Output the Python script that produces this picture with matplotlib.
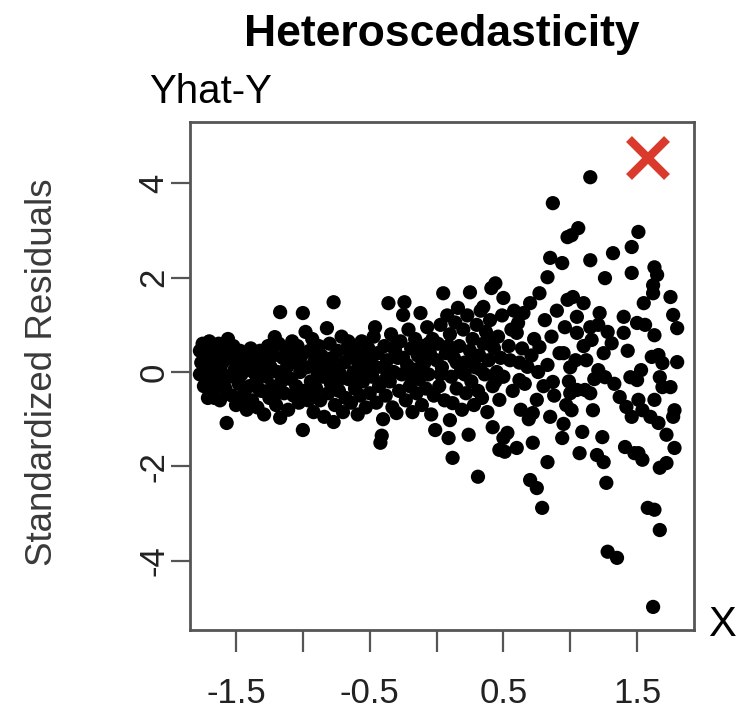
import numpy as np
import matplotlib.pyplot as plt

plt.rcParams['font.family'] = ['Liberation Sans', 'DejaVu Sans']

# residual points, grouped by x band (x, standardized residual)
band_a = [(-1.77, 0.45), (-1.76, 0.2), (-1.77, -0.05), (-1.75, 0.6), (-1.74, -0.3),
          (-1.73, 0.35), (-1.72, 0.05), (-1.71, -0.55), (-1.70, 0.65), (-1.70, 0.25),
          (-1.69, -0.15), (-1.68, 0.5), (-1.67, -0.4), (-1.66, 0.1), (-1.65, 0.35),
          (-1.64, -0.25), (-1.63, 0.6), (-1.62, -0.6), (-1.61, 0.0), (-1.60, 0.2),
          (-1.59, 0.45), (-1.58, -0.35), (-1.57, -1.08), (-1.56, 0.7), (-1.55, -0.1),
          (-1.54, 0.3), (-1.53, -0.5), (-1.52, 0.55), (-1.51, 0.05), (-1.50, -0.7),
          (-1.49, 0.25), (-1.48, -0.25), (-1.47, 0.45), (-1.46, -0.05), (-1.45, 0.15),
          (-1.44, -0.45), (-1.43, 0.35), (-1.42, -0.8), (-1.41, 0.1), (-1.40, -0.3)]

band_b = [(-1.39, 0.5), (-1.38, -0.6), (-1.37, 0.0), (-1.36, 0.3), (-1.35, -0.2),
          (-1.34, -0.75), (-1.33, 0.15), (-1.32, 0.45), (-1.31, -0.4), (-1.30, 0.05),
          (-1.29, -0.9), (-1.28, 0.25), (-1.27, -0.1), (-1.26, 0.55), (-1.25, -0.55),
          (-1.24, 0.1), (-1.23, -0.3), (-1.22, 0.35), (-1.21, 0.74), (-1.20, -0.7),
          (-1.19, 0.0), (-1.18, 0.6), (-1.17, 1.27), (-1.17, -0.97), (-1.16, -0.2),
          (-1.15, 0.3), (-1.14, -0.45), (-1.13, 0.5), (-1.12, 0.1), (-1.11, -0.8),
          (-1.10, 0.4), (-1.09, -0.15), (-1.08, 0.65), (-1.07, -0.5), (-1.06, 0.2),
          (-1.05, -0.3), (-1.04, 0.55), (-1.03, -0.65), (-1.02, 0.0), (-1.01, 0.35),
          (-1.00, 1.25), (-1.00, -1.23), (-0.99, -0.4), (-0.98, 0.85)]

band_c = [(-0.97, 0.1), (-0.96, -0.6), (-0.95, 0.45), (-0.94, -0.2), (-0.93, 0.7),
          (-0.92, -0.85), (-0.91, 0.25), (-0.90, -0.35), (-0.89, 0.0), (-0.88, 0.55),
          (-0.87, -0.6), (-0.86, 0.35), (-0.85, -0.1), (-0.84, -0.95), (-0.83, 0.15),
          (-0.82, 0.93), (-0.81, -0.45), (-0.80, 0.6), (-0.79, -0.25), (-0.78, 0.3),
          (-0.77, 1.48), (-0.77, -1.06), (-0.76, -0.7), (-0.75, 0.05), (-0.74, 0.45),
          (-0.73, -0.4), (-0.72, -0.05), (-0.71, 0.75), (-0.70, -0.85), (-0.69, 0.2),
          (-0.68, -0.55), (-0.67, 0.5), (-0.66, -0.15), (-0.65, 0.3), (-0.64, -0.65),
          (-0.63, 0.57), (-0.62, 0.0), (-0.61, -0.35), (-0.60, 0.4), (-0.59, -0.9),
          (-0.58, 0.15), (-0.57, -0.5), (-0.56, 0.65), (-0.55, -0.2), (-0.54, 0.35),
          (-0.53, -0.75), (-0.52, 0.05), (-0.51, 0.5)]

band_d = [(-0.50, -0.45), (-0.49, 0.2), (-0.48, -0.1), (-0.47, 0.75), (-0.46, 0.95),
          (-0.45, -0.65), (-0.44, 0.4), (-0.43, -0.3), (-0.42, -1.5), (-0.41, -1.35),
          (-0.40, 0.1), (-0.40, -1.0), (-0.39, 0.55), (-0.38, -0.5), (-0.37, 0.25),
          (-0.36, 1.46), (-0.35, -0.2), (-0.34, 0.8), (-0.33, -0.75), (-0.32, 0.0),
          (-0.31, 0.45), (-0.30, -0.87), (-0.29, 0.3), (-0.28, -0.4), (-0.27, 0.65),
          (-0.26, -0.05), (-0.25, 1.21), (-0.24, 1.48), (-0.23, -0.6), (-0.22, 0.15),
          (-0.21, 0.9), (-0.20, -0.3), (-0.19, 0.5), (-0.18, -0.85), (-0.17, 0.05),
          (-0.16, 0.7), (-0.15, -0.45), (-0.14, 0.35), (-0.13, -0.15), (-0.12, 1.25),
          (-0.11, -0.7), (-0.10, 0.55), (-0.09, 0.2), (-0.08, -0.35), (-0.07, 0.95),
          (-0.06, -0.05), (-0.05, 0.4), (-0.04, -0.9), (-0.03, 0.7), (-0.02, -0.5),
          (-0.01, -1.23), (0.0, 0.25)]

band_e = [(0.01, 0.6), (0.02, -0.3), (0.03, 1.0), (0.04, 0.1), (0.05, 1.67),
          (0.06, -0.6), (0.07, 0.4), (0.08, 1.2), (0.09, -1.40), (0.10, -1.02),
          (0.10, 0.8), (0.11, -0.1), (0.12, -0.66), (0.12, -1.82), (0.13, 0.3),
          (0.14, 1.05), (0.15, -0.35), (0.16, 1.36), (0.17, 0.55), (0.18, 0.0),
          (0.19, -0.8), (0.20, 0.9), (0.21, 0.2), (0.22, -0.45), (0.23, 1.2),
          (0.24, -1.33), (0.25, 1.69), (0.25, 0.45), (0.26, -0.2), (0.27, 0.7),
          (0.28, -0.7), (0.29, 0.1), (0.30, 1.0), (0.31, -2.22), (0.31, -0.4),
          (0.32, 0.35), (0.33, 1.3), (0.34, -0.55), (0.35, 1.38), (0.35, 0.6),
          (0.36, -0.05), (0.37, 0.85), (0.38, -0.85), (0.39, 0.25), (0.40, 1.1),
          (0.41, 1.78), (0.42, -1.17), (0.42, -0.3), (0.43, 0.5), (0.44, 1.88),
          (0.45, 0.0), (0.46, 0.75), (0.47, -0.59), (0.47, -1.65), (0.48, 0.3),
          (0.49, 1.2), (0.50, 1.57), (0.50, -1.40), (0.50, -0.1)]

band_f = [(0.51, -1.69), (0.53, -1.29), (0.55, 0.25), (0.56, 0.9), (0.57, -0.4),
          (0.58, 1.3), (0.60, 0.83), (0.60, -1.61), (0.61, 1.04), (0.62, -0.17),
          (0.63, -0.8), (0.64, 0.5), (0.65, 1.25), (0.66, -0.25), (0.68, 0.11),
          (0.69, -1.0), (0.70, 1.46), (0.70, -2.29), (0.71, 0.35), (0.72, -0.87),
          (0.72, -1.50), (0.73, 0.7), (0.75, -0.59), (0.75, -2.46), (0.76, 0.0),
          (0.77, 1.67), (0.77, 0.53), (0.79, -2.88), (0.80, -0.3), (0.81, 1.1),
          (0.83, 2.01), (0.83, 0.15), (0.83, -1.91), (0.85, 2.42), (0.85, -0.95),
          (0.86, 0.75), (0.87, 3.58), (0.87, -0.21), (0.88, -0.5), (0.90, 1.3),
          (0.92, 0.4), (0.94, 2.31), (0.94, -1.40), (0.95, 0.40), (0.95, -1.1),
          (0.96, 0.95), (0.97, -0.7), (0.98, 2.86), (0.98, 1.53), (0.99, -0.2)]

band_g = [(1.01, 2.9), (1.06, 3.05), (1.15, 4.13), (1.51, 2.97), (1.46, 2.65),
          (1.32, 2.52), (1.15, 2.37), (1.26, 1.99), (1.46, 2.10), (1.63, 2.22),
          (1.65, 2.06), (1.62, 1.84), (1.62, 1.67), (1.75, 1.59), (1.55, 1.46),
          (1.77, 1.21), (1.80, 0.93), (1.02, 1.59), (1.10, 1.46), (1.05, 1.17),
          (1.22, 1.25), (1.40, 1.17), (1.50, 1.04), (1.56, 1.00), (1.63, 0.78),
          (1.15, 0.95), (1.21, 1.00), (1.05, 0.83), (1.16, 0.68), (1.40, 0.83),
          (1.31, 0.61), (1.25, 0.40), (1.04, 0.25), (1.12, 0.25), (1.00, 0.1),
          (1.21, 0.04), (1.26, -0.11), (1.61, 0.32), (1.66, 0.36), (1.69, 0.19),
          (1.80, 0.21), (1.53, 0.04), (1.45, -0.11), (1.50, -0.17), (1.67, -0.11),
          (1.69, -0.32), (1.75, -0.32), (1.05, -0.38), (1.11, -0.38), (1.15, -0.45),
          (1.00, -0.45), (1.37, -0.53), (1.63, -0.59), (1.42, -0.74), (1.51, -0.59),
          (1.54, -0.81), (1.78, -0.81), (1.77, -0.95), (1.46, -0.95), (1.60, -0.95),
          (1.66, -1.08), (1.01, -0.81), (1.17, -0.81), (1.72, -1.33), (1.09, -1.27),
          (1.24, -1.38), (1.41, -1.59), (1.48, -1.72), (1.78, -1.61), (1.07, -1.72),
          (1.20, -1.76), (1.51, -1.72), (1.54, -1.86), (1.67, -2.03), (1.72, -1.93),
          (1.25, -1.91), (1.27, -2.35), (1.58, -2.88), (1.63, -2.92), (1.67, -3.35),
          (1.28, -3.81), (1.35, -3.94), (1.62, -4.98), (1.33, -0.25), (1.28, 0.85),
          (1.43, 0.45), (1.10, 0.55), (1.18, -0.15)]

# extra points in the crowded core where dots overlap
band_core = [(-1.74, 0.15), (-1.66, -0.55), (-1.60, -0.15), (-1.52, 0.4), (-1.45, -0.6),
             (-1.38, 0.2), (-1.33, -0.35), (-1.25, 0.4), (-1.19, -0.45), (-1.12, -0.1),
             (-1.06, 0.45), (-0.93, -0.45), (-0.88, 0.2), (-0.80, -0.05), (-0.74, -0.2),
             (-0.66, 0.65), (-0.60, -0.1), (-0.53, 0.25), (-0.45, 0.1), (-0.38, -0.15),
             (-0.30, 0.6), (-0.25, 0.3), (-0.19, -0.1), (-0.12, 0.1), (-0.06, 0.6),
             (0.03, -0.05), (0.09, 0.55), (0.15, 0.2), (0.21, -0.05), (0.27, 0.35),
             (0.33, 0.05), (0.39, 0.6), (0.44, -0.2), (0.54, 0.55), (0.62, 0.2)]

cross_x, cross_y = 1.58, 4.53

x_ticks = [-1.5, -1.0, -0.5, 0.0, 0.5, 1.0, 1.5]
x_labels = ['-1.5', '', '-0.5', '', '0.5', '', '1.5']
y_ticks = [-4, -2, 0, 2, 4]
y_labels = ['-4', '-2', '0', '2', '4']

pts = np.array(band_a + band_b + band_c + band_d + band_e + band_f + band_g + band_core)

fig = plt.figure(figsize=(7.38, 7.14), dpi=100)
ax = fig.add_axes([0.2575, 0.1176, 0.6829, 0.7115])

ax.scatter(pts[:, 0], pts[:, 1], s=105, c='black', edgecolors='none', zorder=3)
ax.plot(cross_x, cross_y, marker='x', color='#d93a2b', markersize=27, mew=6, zorder=4)

ax.set_xlim(-1.844, 1.926)
ax.set_ylim(-5.47, 5.30)
ax.set_xticks(x_ticks)
ax.set_xticklabels(x_labels)
ax.set_yticks(y_ticks)
ax.set_yticklabels(y_labels, rotation=90, va='center')

for sp in ax.spines.values():
    sp.set_color('#555555')
    sp.set_linewidth(2)
ax.tick_params(axis='x', length=16, width=1.6, color='#555555', pad=18,
               labelsize=25, labelcolor='#222222')
ax.tick_params(axis='y', length=14, width=1.6, color='#555555', pad=0,
               labelsize=25, labelcolor='#222222')

fig.text(0.599, 0.951, 'Heteroscedasticity', ha='center', va='center',
         fontsize=32, fontweight='bold')
fig.text(0.285, 0.871, 'Yhat-Y', ha='center', va='center', fontsize=29)
fig.text(0.978, 0.125, 'X', ha='center', va='center', fontsize=30)
fig.text(0.057, 0.479, 'Standardized Residuals', ha='center', va='center',
         rotation=90, fontsize=26.5, color='#3a3a3a')

fig.savefig('out.png', dpi=100)
